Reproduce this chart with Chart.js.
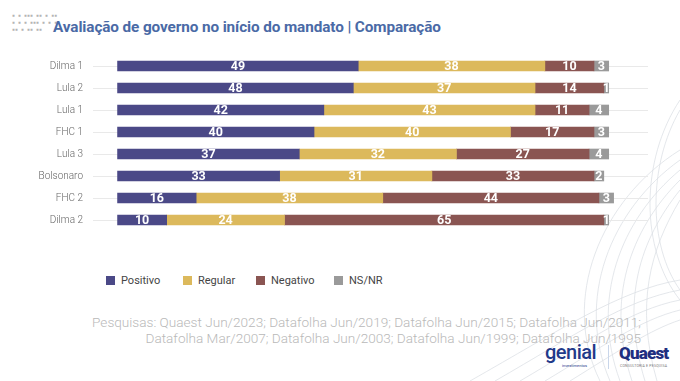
<!DOCTYPE html>
<html>
<head>
<meta charset="utf-8">
<script src="https://cdn.jsdelivr.net/npm/chart.js@4/dist/chart.umd.min.js"></script>
<style>
  html, body { margin: 0; padding: 0; background: #ffffff; }
  body { width: 680px; height: 381px; position: relative; overflow: hidden; font-family: Roboto, "Noto Sans", sans-serif; }
  #title { position: absolute; left: 53px; top: 18px; font-size: 15.3px; font-weight: 700; color: #4a6aa6; white-space: nowrap; letter-spacing: -0.1px; }
  #deco { position: absolute; left: 12px; top: 12px; font-family: "DejaVu Sans Mono", monospace; font-size: 5px; line-height: 7px; color: #b5b5b5; white-space: pre; }
  #chartWrap { position: absolute; left: 0; top: 0; width: 680px; height: 247px; }
  #legend { position: absolute; left: 106px; top: 273px; height: 16px; font-size: 11px; color: #444; }
  #legend .item { position: absolute; top: 0; white-space: nowrap; }
  #legend .sw { position: absolute; top: 3px; left: 0; width: 9px; height: 9px; }
  #legend .tx { position: absolute; top: 0; left: 15px; line-height: 15px; }
  #src { position: absolute; right: 39px; top: 314px; font-size: 13.6px; font-weight: 300; color: #b9b9b9; text-align: right; line-height: 16px; white-space: nowrap; }
  #logos { position: absolute; left: 540px; top: 343px; width: 140px; height: 30px; }
  #genial { position: absolute; left: 5px; top: -3px; font-size: 20px; font-weight: 500; color: #1f3a8a; letter-spacing: -0.5px; }
  #genialSub { position: absolute; left: 22px; top: 20px; font-size: 4px; color: #1f3a8a; }
  #divider { position: absolute; left: 68px; top: 2px; width: 1px; height: 24px; background: #c9d6ea; }
  #quaest { position: absolute; left: 79px; top: 0px; font-size: 17px; font-weight: 900; color: #1f2f80; letter-spacing: -0.8px; }
  #quaestSub { position: absolute; left: 80px; top: 21px; font-size: 3.5px; color: #777; letter-spacing: 0.2px; }
  svg#curves { position: absolute; left: 0; top: 0; }
</style>
</head>
<body>
<svg id="curves" width="680" height="381">
  <g fill="none" stroke="#d9dde3" stroke-width="0.7">
    <path d="M680 150 C 600 200, 560 300, 600 381"/>
    <path d="M680 160 C 610 210, 575 300, 610 381"/>
    <path d="M680 170 C 620 220, 590 300, 620 381"/>
    <path d="M680 180 C 630 230, 605 300, 632 381"/>
    <path d="M680 190 C 640 240, 620 300, 645 381"/>
    <path d="M680 200 C 650 250, 635 305, 657 381"/>
    <path d="M680 100 C 640 160, 640 250, 680 300"/>
    <path d="M680 110 C 648 165, 648 245, 680 290"/>
    <path d="M680 280 C 620 290, 560 330, 470 381"/>
    <path d="M680 290 C 625 300, 575 335, 495 381"/>
    <path d="M680 300 C 630 310, 590 340, 520 381"/>
    <path d="M680 310 C 640 320, 605 345, 545 381"/>
    <path d="M680 320 C 650 330, 620 350, 570 381"/>
  </g>
</svg>
<div id="deco">▪ ▪ ▪▪▪ ▪▪ ▪ ▪▪
▪ ▪ ▪ ▪▪▪ ▪ ▪ ▪
▪▪ ▪ ▪▪ ▪▪</div>
<div id="title">Avaliação de governo no início do mandato | Comparação</div>
<div id="chartWrap"><canvas id="c" width="680" height="247"></canvas></div>
<div id="legend"></div>
<div id="src">Pesquisas: Quaest Jun/2023; Datafolha Jun/2019; Datafolha Jun/2015; Datafolha Jun/2011;<br>Datafolha Mar/2007; Datafolha Jun/2003; Datafolha Jun/1999; Datafolha Jun/1995</div>
<div id="logos">
  <div id="genial">genial</div>
  <div id="genialSub">investimentos</div>
  <div id="divider"></div>
  <div id="quaest">Quaest</div>
  <div id="quaestSub">CONSULTORIA E PESQUISA</div>
</div>
<script>
const categories = ["Dilma 1", "Lula 2", "Lula 1", "FHC 1", "Lula 3", "Bolsonaro", "FHC 2", "Dilma 2"];
const seriesNames = ["Positivo", "Regular", "Negativo", "NS/NR"];
const positivo = [49, 48, 42, 40, 37, 33, 16, 10];
const regular  = [38, 37, 43, 40, 32, 31, 38, 24];
const negativo = [10, 14, 11, 17, 27, 33, 44, 65];
const nsnr     = [3, 1, 4, 3, 4, 2, 3, 1];
const seriesColors = ["#4b4987", "#dcb95c", "#8a5552", "#9a9a9a"];
const seriesValues = [positivo, regular, negativo, nsnr];

const datasets = seriesNames.map((name, i) => ({
  label: name,
  data: seriesValues[i],
  backgroundColor: seriesColors[i],
  borderWidth: 0,
  barThickness: 10
}));

const valueLabels = {
  id: 'valueLabels',
  afterDatasetsDraw(chart) {
    const ctx = chart.ctx;
    ctx.save();
    ctx.fillStyle = '#ffffff';
    ctx.font = 'bold 12.5px Roboto, sans-serif';
    ctx.textAlign = 'center';
    ctx.textBaseline = 'middle';
    chart.data.datasets.forEach((ds, di) => {
      const meta = chart.getDatasetMeta(di);
      meta.data.forEach((bar, i) => {
        const v = ds.data[i];
        if (v == null) return;
        const p = bar.getProps(['x', 'y', 'base'], true);
        ctx.fillText(String(v), (p.x + p.base) / 2, p.y + 0.5);
      });
    });
    ctx.restore();
  }
};

new Chart(document.getElementById('c'), {
  type: 'bar',
  data: { labels: categories, datasets },
  options: {
    indexAxis: 'y',
    responsive: false,
    animation: false,
    layout: { padding: { left: 0, right: 32, top: 55, bottom: 0 } },
    plugins: { legend: { display: false }, tooltip: { enabled: false } },
    scales: {
      x: { stacked: true, min: -5, max: 108, display: false },
      y: {
        stacked: true,
        afterFit(scale) { scale.width = 93; },
        grid: { offset: false, color: '#e9e9e9', lineWidth: 1, drawTicks: false },
        border: { display: false },
        ticks: { color: '#666666', font: { family: 'Roboto', size: 10, weight: '300' }, padding: 10 }
      }
    }
  },
  plugins: [valueLabels]
});

// HTML legend built from series arrays
const legendEl = document.getElementById('legend');
const legendX = [0, 77, 150, 228];
seriesNames.forEach((name, i) => {
  const it = document.createElement('div');
  it.className = 'item';
  it.style.left = legendX[i] + 'px';
  it.innerHTML = '<span class="sw" style="background:' + seriesColors[i] + '"></span><span class="tx">' + name + '</span>';
  legendEl.appendChild(it);
});
</script>
</body>
</html>
